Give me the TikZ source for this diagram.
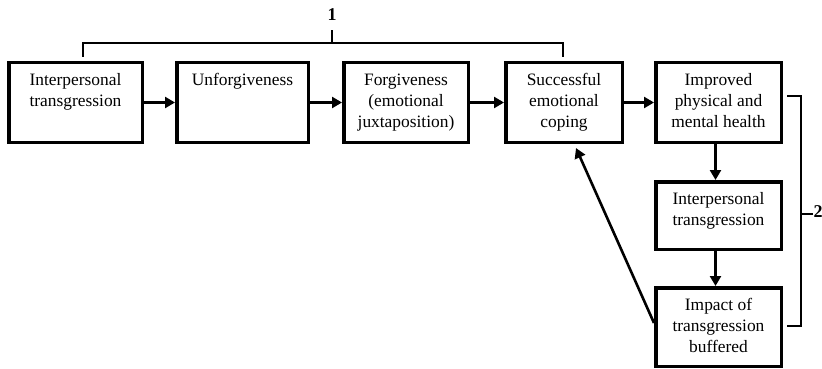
\documentclass[tikz,border=0pt]{standalone}
\usepackage{fontspec}
\setmainfont{Liberation Serif}
\usetikzlibrary{arrows.meta,calc}
\newcommand{\bxt}[3]{\parbox[c][#2][t]{#1}{\centering\rule{0pt}{22.5pt}#3}}
\tikzset{
  box/.style={draw=black, line width=3.5pt, inner sep=0pt, fill=white,
    font=\fontsize{17.4}{21}\selectfont},
  arr/.style={line width=2.6pt, -{Triangle[length=10pt,width=11pt]}},
  brk/.style={line width=1.5pt},
  lab/.style={font=\fontsize{18}{20}\selectfont\bfseries, inner sep=0pt}
}
\begin{document}
\begin{tikzpicture}[x=1pt,y=-1pt]
\useasboundingbox (0,0) rectangle (822,369);
\fill[white] (0,0) rectangle (822,369);
\node[box] (b1) at (75.5,102.5) {\bxt{133.5pt}{79.5pt}{Interpersonal\\transgression}};
\node[box] (b2) at (242.5,102.5) {\bxt{131.5pt}{79.5pt}{Unforgiveness}};
\node[box] (b3) at (406,102.5) {\bxt{124.5pt}{79.5pt}{Forgiveness\\(emotional\\juxtaposition)}};
\node[box] (b4) at (564,102.5) {\bxt{116.5pt}{79.5pt}{Successful\\emotional\\coping}};
\node[box] (b5) at (718.5,102.5) {\bxt{125.5pt}{79.5pt}{Improved\\physical and\\mental health}};
\node[box] (b6) at (718.5,215.5) {\bxt{125.5pt}{67.5pt}{\rule{0pt}{20pt}Interpersonal\\transgression}};
\node[box] (b7) at (718.5,327) {\bxt{125.5pt}{78.5pt}{Impact of\\transgression\\buffered}};

\draw[arr] (b1) -- (b2);
\draw[arr] (b2) -- (b3);
\draw[arr] (b3) -- (b4);
\draw[arr] (b4) -- (b5);
\draw[arr] ([xshift=-3pt]b5.south) -- ([xshift=-3pt]b6.north);
\draw[arr] ([xshift=-3pt]b6.south) -- ([xshift=-3pt]b7.north);
\draw[arr] ([yshift=4pt]b7.west) -- ([xshift=12pt,yshift=-4pt]b4.south);

% bracket 1
\coordinate (t1) at (83,57);
\coordinate (t2) at (563,57);
\coordinate (m1) at (332,43);
\draw[brk] (t1) |- (m1) -| (t2);
\draw[brk] (m1) -- (332,30);
\node[lab] (n1) at (332,15) {1};

% bracket 2
\coordinate (u1) at (787,96);
\coordinate (u2) at (787,326);
\coordinate (m2) at (801,214);
\draw[brk] (u1) -| (m2) |- (u2);
\draw[brk] (m2) -- (813,214);
\node[lab, anchor=west] (n2) at (813.5,212) {2};
\end{tikzpicture}
\end{document}
